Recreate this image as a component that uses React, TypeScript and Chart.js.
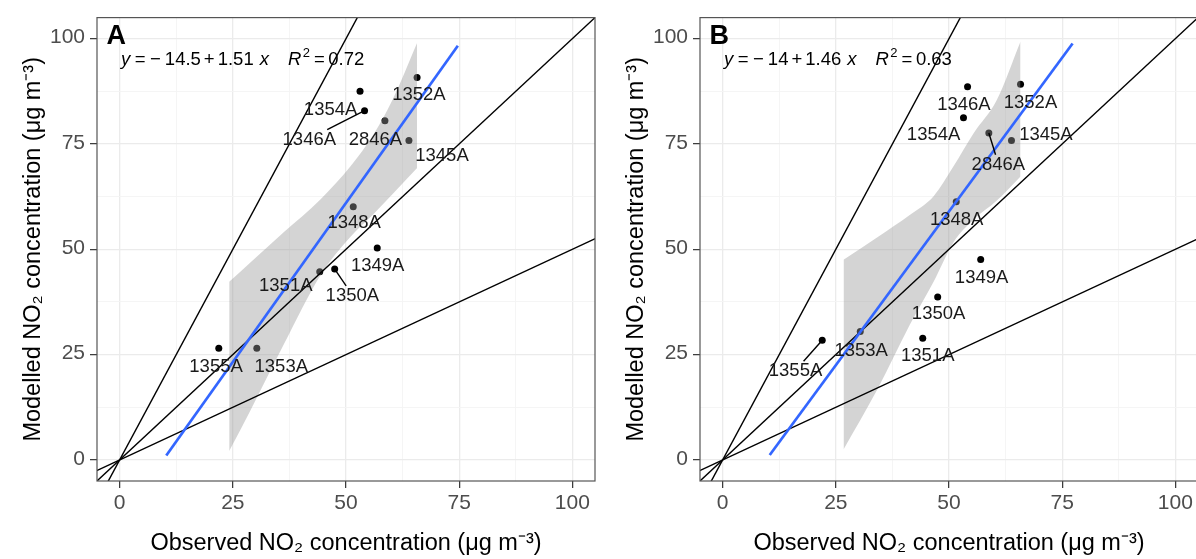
import React, { useEffect, useRef } from 'react';
import { Chart, registerables } from 'chart.js';

Chart.register(...registerables);

// ---------------- data ----------------
const siteIds = ['1352A', '1354A', '1346A', '2846A', '1345A', '1348A', '1349A', '1351A', '1350A', '1355A', '1353A'];

// Panel A: observed vs modelled NO2
const observedA = [65.7, 53.1, 54.1, 58.6, 63.9, 51.6, 56.9, 44.2, 47.5, 21.9, 30.3];
const modelledA = [90.8, 87.5, 82.9, 80.5, 75.8, 60.1, 50.3, 44.7, 45.3, 26.5, 26.5];
const labelXA = [66.1, 46.6, 41.9, 56.5, 71.2, 51.8, 57.0, 36.7, 51.4, 21.3, 35.7];
const labelYA = [86.8, 83.3, 76.3, 76.3, 72.4, 56.4, 46.2, 41.6, 39.2, 22.4, 22.4];
const segmentA = [false, false, true, false, false, false, false, false, true, false, false];
const bandXA = [24.2, 29.0, 36.3, 44.4, 51.0, 56.2, 60.2, 65.7];
const bandUpperA = [42.3, 47.0, 54.1, 61.9, 69.7, 77.5, 85.3, 99.0];
const bandLowerA = [2.1, 12.0, 27.5, 43.9, 53.0, 58.5, 63.0, 69.3];
const fitRangeA = [10.3, 74.7];

// Panel B
const observedB = [65.8, 53.2, 54.1, 58.8, 63.8, 51.6, 57.0, 44.2, 47.5, 22.0, 30.4];
const modelledB = [89.2, 81.2, 88.6, 77.6, 75.8, 61.3, 47.6, 28.9, 38.7, 28.4, 30.5];
const labelXB = [68.0, 46.6, 53.3, 60.9, 71.4, 51.7, 57.2, 45.3, 47.7, 16.1, 30.6];
const labelYB = [85.1, 77.3, 84.5, 70.3, 77.5, 57.3, 43.5, 25.0, 34.8, 21.3, 26.2];
const segmentB = [false, false, false, true, false, false, false, false, false, true, false];
const bandXB = [26.7, 34.1, 41.4, 46.6, 51.0, 55.4, 60.5, 65.8];
const bandUpperB = [47.5, 52.8, 58.2, 62.6, 69.7, 77.5, 85.3, 99.3];
const bandLowerB = [2.5, 16.6, 32.2, 42.3, 51.7, 57.0, 61.5, 67.3];
const fitRangeB = [10.4, 77.3];

// regression equations (A, B)
const panelTags = ['A', 'B'];
const intercepts = [-14.5, -14];
const slopes = [1.51, 1.46];
const rSquared = ['0.72', '0.63'];

// reference lines through origin (2:1, 1:1, 1:2)
const refX = [-10, 110];
const refY2to1 = [-20, 220];
const refY1to1 = [-10, 110];
const refY1to2 = [-5, 55];

// axes
const axisTicks = [0, 12.5, 25, 37.5, 50, 62.5, 75, 87.5, 100];
const majorTicks = [0, 25, 50, 75, 100];
const xTitle = 'Observed NO\u2082 concentration (\u03BCg m\u207B\u00B3)';
const yTitle = 'Modelled NO\u2082 concentration (\u03BCg m\u207B\u00B3)';

const FONT = '"Liberation Sans", Arial, Helvetica, sans-serif';

type Panel = {
  tag: string;
  obs: number[];
  mod: number[];
  lx: number[];
  ly: number[];
  seg: boolean[];
  bandX: number[];
  bandUp: number[];
  bandLo: number[];
  fitRange: number[];
  a: number;
  b: number;
  r2: string;
};

const panels: Panel[] = [
  { tag: panelTags[0], obs: observedA, mod: modelledA, lx: labelXA, ly: labelYA, seg: segmentA, bandX: bandXA, bandUp: bandUpperA, bandLo: bandLowerA, fitRange: fitRangeA, a: intercepts[0], b: slopes[0], r2: rSquared[0] },
  { tag: panelTags[1], obs: observedB, mod: modelledB, lx: labelXB, ly: labelYB, seg: segmentB, bandX: bandXB, bandUp: bandUpperB, bandLo: bandLowerB, fitRange: fitRangeB, a: intercepts[1], b: slopes[1], r2: rSquared[1] },
];

const isMajor = (v: any) => typeof v === 'number' && majorTicks.includes(v);

function decoPlugin(p: Panel) {
  return {
    id: 'deco' + p.tag,
    afterDatasetsDraw(chart: any) {
      const { ctx, chartArea: ca, scales } = chart;
      const x = scales.x;
      const y = scales.y;
      ctx.save();
      ctx.beginPath();
      ctx.rect(ca.left, ca.top, ca.right - ca.left, ca.bottom - ca.top);
      ctx.clip();
      // site labels
      ctx.font = `18.5px ${FONT}`;
      ctx.textAlign = 'center';
      ctx.textBaseline = 'middle';
      siteIds.forEach((id, i) => {
        const lx = x.getPixelForValue(p.lx[i]);
        const ly = y.getPixelForValue(p.ly[i]);
        if (p.seg[i]) {
          const px = x.getPixelForValue(p.obs[i]);
          const py = y.getPixelForValue(p.mod[i]);
          const hw = ctx.measureText(id).width / 2 + 2;
          const hh = 9;
          const dx = px - lx;
          const dy = py - ly;
          const t = Math.min(hw / Math.max(Math.abs(dx), 1e-6), hh / Math.max(Math.abs(dy), 1e-6));
          ctx.beginPath();
          ctx.moveTo(lx + dx * t, ly + dy * t);
          ctx.lineTo(px, py);
          ctx.strokeStyle = '#000';
          ctx.lineWidth = 1.4;
          ctx.stroke();
        }
        ctx.fillStyle = '#1a1a1a';
        ctx.fillText(id, lx, ly + 1);
      });
      // panel tag
      ctx.textAlign = 'left';
      ctx.textBaseline = 'alphabetic';
      ctx.fillStyle = '#000';
      ctx.font = `bold 27px ${FONT}`;
      ctx.fillText(p.tag, ca.left + 9.5, ca.top + 26);
      // equation (plotmath-like spacing)
      const size = 18.5;
      const pieces: { t: string; it?: boolean; sup?: boolean; gap: number }[] = [
        { t: 'y', it: true, gap: 4.5 },
        { t: '=', gap: 4.5 },
        { t: '\u2212', gap: 4 },
        { t: String(Math.abs(p.a)), gap: 3 },
        { t: '+', gap: 3 },
        { t: String(p.b), gap: 6 },
        { t: 'x', it: true, gap: 19 },
        { t: 'R', it: true, gap: 1.5 },
        { t: '2', sup: true, gap: 4 },
        { t: '=', gap: 3.5 },
        { t: p.r2, gap: 0 },
      ];
      let cx = ca.left + 24;
      const base = ca.top + 47;
      pieces.forEach((pc) => {
        if (pc.sup) {
          ctx.font = `13px ${FONT}`;
          ctx.fillText(pc.t, cx, base - 8);
        } else {
          ctx.font = `${pc.it ? 'italic ' : ''}${size}px ${FONT}`;
          ctx.fillText(pc.t, cx, base);
        }
        cx += ctx.measureText(pc.t).width + pc.gap;
      });
      ctx.restore();
    },
    afterDraw(chart: any) {
      const { ctx, chartArea: ca } = chart;
      ctx.save();
      ctx.strokeStyle = '#555';
      ctx.lineWidth = 1.2;
      ctx.strokeRect(ca.left, ca.top, ca.right - ca.left, ca.bottom - ca.top);
      ctx.restore();
    },
  };
}

function axis(title: string, horizontal: boolean) {
  return {
    type: 'linear',
    min: -5,
    max: 105,
    afterBuildTicks: (s: any) => {
      s.ticks = axisTicks.map((v) => ({ value: v }));
    },
    afterFit: (s: any) => {
      if (horizontal) s.height = 78;
      else s.width = 97;
    },
    ticks: {
      autoSkip: false,
      maxRotation: 0,
      color: '#4D4D4D',
      font: { family: FONT, size: 21 },
      padding: horizontal ? 3 : 5,
      labelOffset: horizontal ? 0 : -1,
      callback: (v: any) => (isMajor(v) ? String(v) : ''),
    },
    grid: {
      color: (c: any) => (isMajor(c.tick && c.tick.value) ? '#EBEBEB' : '#F4F4F4'),
      lineWidth: (c: any) => (isMajor(c.tick && c.tick.value) ? 1.3 : 0.9),
      tickColor: (c: any) => (isMajor(c.tick && c.tick.value) ? '#333' : 'rgba(0,0,0,0)'),
      tickLength: 7,
      tickWidth: 1.2,
    },
    border: { display: false },
    title: {
      display: true,
      text: title,
      color: '#000',
      font: { family: FONT, size: 23.5 },
      padding: horizontal ? { top: 0, bottom: 1.5 } : { top: 19, bottom: 0 },
    },
  };
}

function buildConfig(p: Panel): any {
  const pts = p.obs.map((v, i) => ({ x: v, y: p.mod[i] }));
  const up = p.bandX.map((v, i) => ({ x: v, y: p.bandUp[i] }));
  const lo = p.bandX.map((v, i) => ({ x: v, y: p.bandLo[i] }));
  const line = (ys: number[]) => refX.map((v, i) => ({ x: v, y: ys[i] }));
  const fit = p.fitRange.map((v) => ({ x: v, y: p.a + p.b * v }));
  const lineDs = (data: any[], color: string, width: number, order: number) => ({
    data,
    borderColor: color,
    borderWidth: width,
    pointRadius: 0,
    fill: false,
    tension: 0,
    order,
  });
  return {
    type: 'line',
    data: {
      datasets: [
        { data: pts, showLine: false, pointRadius: 3.5, pointBackgroundColor: '#000', pointBorderWidth: 0, order: 6 },
        { data: up, borderWidth: 0, pointRadius: 0, fill: '+1', backgroundColor: 'rgba(153,153,153,0.42)', cubicInterpolationMode: 'monotone', order: 5 },
        { data: lo, borderWidth: 0, pointRadius: 0, fill: false, cubicInterpolationMode: 'monotone', order: 5 },
        lineDs(line(refY2to1), '#000', 1.4, 3),
        lineDs(line(refY1to1), '#000', 1.4, 3),
        lineDs(line(refY1to2), '#000', 1.4, 3),
        lineDs(fit, '#3366FF', 2.7, 1),
      ],
    },
    options: {
      animation: false,
      responsive: false,
      devicePixelRatio: 1,
      events: [],
      layout: { padding: { left: 0, top: 13, right: 5, bottom: 0 } },
      plugins: { legend: { display: false }, tooltip: { enabled: false } },
      scales: { x: axis(xTitle, true), y: axis(yTitle, false) },
    },
    plugins: [decoPlugin(p)],
  };
}

function PanelChart({ p, left }: { p: Panel; left: number }) {
  const ref = useRef<HTMLCanvasElement | null>(null);
  useEffect(() => {
    if (!ref.current) return;
    const chart = new Chart(ref.current, buildConfig(p));
    return () => chart.destroy();
  }, [p]);
  return (
    <div style={{ position: 'absolute', left, top: 0, width: 600, height: 559 }}>
      <canvas ref={ref} width={600} height={559} style={{ display: 'block' }} />
    </div>
  );
}

export default function App() {
  return (
    <div style={{ position: 'fixed', left: 0, top: 0, width: 1196, height: 559, overflow: 'hidden', background: '#fff' }}>
      <PanelChart p={panels[0]} left={0} />
      <PanelChart p={panels[1]} left={603} />
    </div>
  );
}
